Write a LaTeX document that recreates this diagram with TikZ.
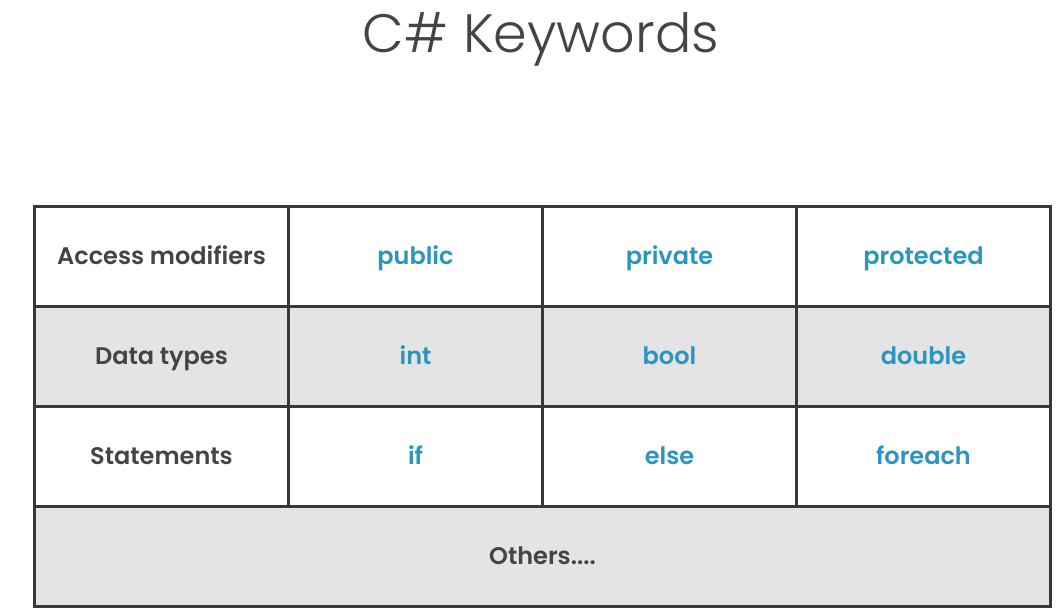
\documentclass[tikz,border=0pt]{standalone}
\usepackage{fontspec}
\setmainfont{Poppins}
\newfontfamily\titlefont{Poppins Light}
\newfontfamily\cellfont{Poppins SemiBold}
\definecolor{txtgray}{HTML}{444444}
\definecolor{kwblue}{HTML}{2B95C0}
\definecolor{rowgray}{HTML}{E4E4E4}
\definecolor{linegray}{HTML}{383838}
\begin{document}
\begin{tikzpicture}[x=1pt,y=1pt,
  cell/.style={draw=linegray,line width=3pt,minimum width=254pt,minimum height=100pt,inner sep=0pt,anchor=north west,text height=17pt,text depth=0pt,font=\cellfont\fontsize{24}{28}\selectfont},
  head/.style={cell,text=txtgray},
  kw/.style={cell,text=kwblue},
  shaded/.style={fill=rowgray}]
\useasboundingbox (0,0) rectangle (1061,615);
\node[text=txtgray,font=\titlefont\fontsize{54}{60}\selectfont,anchor=base,inner sep=0pt] (title) at (541,562) {C\# Keywords};
% row 1
\node[head] (a1) at (33,410) {Access modifiers};
\node[kw] (b1) at (287,410) {public};
\node[kw] (c1) at (541,410) {private};
\node[kw] (d1) at (795,410) {protected};
% row 2
\node[head,shaded] (a2) at (33,310) {Data types};
\node[kw,shaded] (b2) at (287,310) {int};
\node[kw,shaded] (c2) at (541,310) {bool};
\node[kw,shaded] (d2) at (795,310) {double};
% row 3
\node[head] (a3) at (33,210) {Statements};
\node[kw] (b3) at (287,210) {if};
\node[kw] (c3) at (541,210) {else};
\node[kw] (d3) at (795,210) {foreach};
% row 4
\node[head,shaded,minimum width=1016pt] (a4) at (33,110) {Others....};
\end{tikzpicture}
\end{document}
